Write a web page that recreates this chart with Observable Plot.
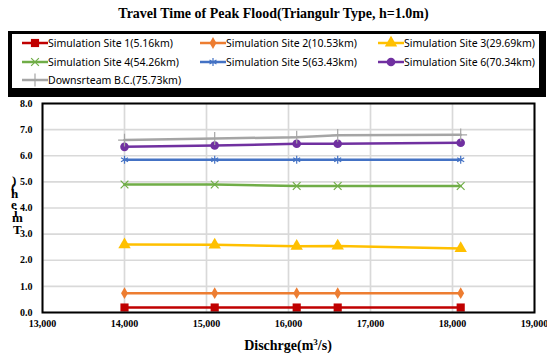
<!DOCTYPE html>
<html>
<head>
<meta charset="utf-8">
<script src="https://cdn.jsdelivr.net/npm/d3@7"></script>
<script src="https://cdn.jsdelivr.net/npm/@observablehq/plot@0.6"></script>
<style>
  html, body { margin:0; padding:0; background:#fff; }
  #wrap { position:relative; width:547px; height:353px; overflow:hidden; }
  #chart { position:absolute; left:0; top:0; }
  .title { position:absolute; left:0; width:547px; top:6px; text-align:center;
    font-family:"Liberation Serif", serif; font-weight:bold; font-size:14px; color:#000; }
  .legOuter { position:absolute; left:8px; top:31px; width:538px; height:66px; background:#000; }
  .legInner { position:absolute; left:12px; top:34px; width:527px; height:54px; background:#fff; }
  .item { position:absolute; font-family:"Noto Sans", sans-serif; font-size:10.5px; color:#000;
    white-space:nowrap; height:16px; line-height:16px; }
  .item svg { position:absolute; left:0; top:0; }
  .item span { position:absolute; left:26px; top:0; }
  .xlabel { position:absolute; left:0; width:576px; top:338px; text-align:center;
    font-family:"Liberation Serif", serif; font-weight:bold; font-size:14px; }
  .ych { position:absolute; font-family:"Liberation Serif", serif; font-weight:bold; font-size:13px; line-height:13px; }
</style>
</head>
<body>
<div id="wrap">
  <div id="chart"></div>
  <div class="title">Travel Time of Peak Flood(Triangulr Type, h=1.0m)</div>
  <div class="legOuter"></div>
  <div class="legInner"></div>
  <div id="legend"></div>
  <div class="xlabel">Dischrge(m<sup style="font-size:9px;vertical-align:5px;line-height:0">3</sup>/s)</div>
  <div id="ylab"></div>
</div>
<script>
// ---- data ----
const discharge = [14000, 15100, 16100, 16600, 18100];
const seriesNames = [
  "Simulation Site 1(5.16km)",
  "Simulation Site 2(10.53km)",
  "Simulation Site 3(29.69km)",
  "Simulation Site 4(54.26km)",
  "Simulation Site 5(63.43km)",
  "Simulation Site 6(70.34km)",
  "Downsrteam B.C.(75.73km)"
];
const site1 = [0.19, 0.19, 0.19, 0.19, 0.19];
const site2 = [0.74, 0.74, 0.74, 0.74, 0.74];
const site3 = [2.60, 2.59, 2.54, 2.55, 2.45];
const site4 = [4.90, 4.90, 4.84, 4.84, 4.84];
const site5 = [5.85, 5.85, 5.85, 5.85, 5.85];
const site6 = [6.34, 6.39, 6.46, 6.46, 6.50];
const downstream = [6.60, 6.66, 6.71, 6.78, 6.80];
const seriesValues = [site1, site2, site3, site4, site5, site6, downstream];
const xTicks = [13000, 14000, 15000, 16000, 17000, 18000, 19000];
const yTicks = [0, 1, 2, 3, 4, 5, 6, 7, 8];
const yAxisTitle = "Time(h)";

// ---- styles ----
const colors = ["#C00000", "#ED7D31", "#FFC000", "#70AD47", "#4472C4", "#7030A0", "#A5A5A5"];
const symbols = ["square", "diamond", "triangle", "times", "asterisk", "circle", "plus"];
const filled = [true, true, true, false, false, true, false];
const radii = [4.6, 3.6, 4.6, 3.6, 3.8, 4.3, 4.2];
const strokeW = [2.5, 2.5, 2.5, 2.5, 2.5, 2.5, 2.5];

const rows = [];
seriesNames.forEach((s, i) => discharge.forEach((x, j) => rows.push({series: s, idx: i, x, y: seriesValues[i][j]})));

const marks = [
  Plot.gridX(xTicks, {stroke: "#d9d9d9", strokeOpacity: 1, strokeWidth: 1.7}),
  Plot.gridY(yTicks, {stroke: "#d9d9d9", strokeOpacity: 1, strokeWidth: 1.7}),
];
seriesNames.forEach((s, i) => {
  const d = rows.filter(r => r.idx === i);
  marks.push(Plot.line(d, {x: "x", y: "y", stroke: colors[i], strokeWidth: strokeW[i]}));
});
seriesNames.forEach((s, i) => {
  const d = rows.filter(r => r.idx === i);
  if (filled[i]) {
    marks.push(Plot.dot(d, {x: "x", y: "y", symbol: () => symbols[i], r: radii[i], fill: colors[i], stroke: "none"}));
  } else {
    marks.push(Plot.dot(d, {x: "x", y: "y", symbol: () => symbols[i], r: radii[i], fill: "none", stroke: colors[i], strokeWidth: 1.2}));
  }
});
marks.push(Plot.axisX(xTicks, {tickSize: 0, tickPadding: 7, tickFormat: d3.format(","), label: null,
  fontWeight: "bold", fontSize: 10, fontFamily: "Liberation Serif"}));
marks.push(Plot.axisY(yTicks, {tickSize: 0, tickPadding: 10, tickFormat: d => d.toFixed(1), label: null,
  fontWeight: "bold", fontSize: 10, fontFamily: "Liberation Serif"}));
marks.push(Plot.frame({stroke: "#000", strokeWidth: 2}));

const chart = Plot.plot({
  width: 547, height: 353,
  marginLeft: 42, marginRight: 13, marginTop: 103, marginBottom: 41,
  x: {domain: [13000, 19000]},
  y: {domain: [0, 8]},
  style: {background: "#fff", color: "#000", fontFamily: "Liberation Serif", fontWeight: "bold", fontSize: "10px"},
  marks
});
document.getElementById("chart").appendChild(chart);

// ---- legend ----
const legend = document.getElementById("legend");
const colX = [22, 200, 378];
const rowY = [35, 54, 72];
seriesNames.forEach((s, i) => {
  const div = document.createElement("div");
  div.className = "item";
  div.style.left = colX[i % 3] + "px";
  div.style.top = rowY[Math.floor(i / 3)] + "px";
  const svg = d3.create("svg").attr("width", 26).attr("height", 16);
  svg.append("line").attr("x1", 0).attr("x2", 26).attr("y1", 8).attr("y2", 8)
    .attr("stroke", colors[i]).attr("stroke-width", 2.5);
  const symMap = {square: d3.symbolSquare, diamond: d3.symbolDiamond, triangle: d3.symbolTriangle,
    times: d3.symbolTimes, asterisk: d3.symbolAsterisk, circle: d3.symbolCircle, plus: d3.symbolPlus};
  const size = Math.PI * radii[i] * radii[i];
  const p = svg.append("path").attr("transform", "translate(13,8)").attr("d", d3.symbol(symMap[symbols[i]], size)());
  if (filled[i]) p.attr("fill", colors[i]); else p.attr("fill", "none").attr("stroke", colors[i]).attr("stroke-width", 1.2);
  div.appendChild(svg.node());
  const span = document.createElement("span");
  span.textContent = s;
  div.appendChild(span);
  legend.appendChild(div);
});

// ---- stacked y-axis title (characters stacked bottom-to-top) ----
const ylab = document.getElementById("ylab");
const chars = yAxisTitle.split("");
// T, i, m, e, (, h, )
const pos = [[13,223],[14,206],[12,211],[11,198],[11,181],[11,187],[12,174]];
chars.forEach((c, i) => {
  const sp = document.createElement("div");
  sp.className = "ych";
  sp.textContent = c;
  sp.style.left = pos[i][0] + "px";
  sp.style.top = pos[i][1] + "px";
  ylab.appendChild(sp);
});
</script>
</body>
</html>
